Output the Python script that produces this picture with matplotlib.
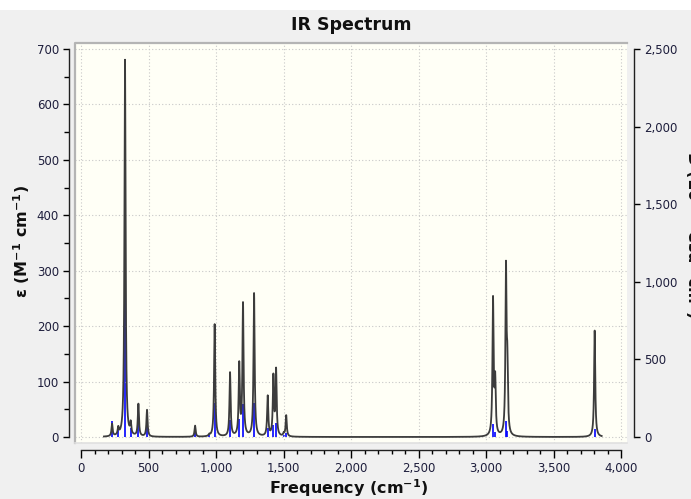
import numpy as np
import matplotlib
matplotlib.use("Agg")
import matplotlib.pyplot as plt
from matplotlib.ticker import MultipleLocator, FuncFormatter
from matplotlib.patches import Rectangle
from matplotlib.lines import Line2D

# Vibrational modes
freqs = [230, 276, 326, 368, 425, 489, 845, 950, 990, 1104, 1172, 1200, 1282,
         1383, 1425, 1445, 1502, 1520, 3052, 3068, 3148, 3158, 3805]
eps_peak = [22, 13, 680, 20, 58, 48, 20, 3, 203, 115, 128, 238, 258,
            72, 106, 118, 5, 38, 245, 95, 295, 110, 192]
dipole = [103, 51, 2244, 58, 147, 106, 25, 12, 221, 112, 117, 213, 217,
          56, 80, 88, 14, 27, 86, 33, 101, 37, 54]
hwhm = 5.0
freq_min, freq_max = 170, 3857

x_ticks = [0, 500, 1000, 1500, 2000, 2500, 3000, 3500, 4000]
left_ticks = [0, 100, 200, 300, 400, 500, 600, 700]
right_ticks = [0, 500, 1000, 1500, 2000, 2500]

W, H = 691, 499
fig = plt.figure(figsize=(W / 100, H / 100), dpi=100)
fig.patch.set_facecolor("white")
fig.patches.append(Rectangle((0, 0), 1, 1 - 10 / H, transform=fig.transFigure,
                             facecolor="#f0f0f0", edgecolor="none", zorder=-10))

left, right, top, bottom = 75, 627, 43, 443
rect = [left / W, 1 - bottom / H, (right - left) / W, (bottom - top) / H]
ax2 = fig.add_axes(rect)
ax = fig.add_axes(rect, sharex=ax2)
ax.set_zorder(ax2.get_zorder() + 1)
ax.patch.set_visible(False)
ax2.set_facecolor("#fffff6")

# x limits from pixel mapping (0 at px 81, 4000 at px 621)
ppx = (621 - 81) / 4000
ax.set_xlim((left - 81) / ppx, (right - 81) / ppx)
ppy = (437 - 49) / 700
ymin = -(bottom - 437) / ppy
ymax = (437 - top) / ppy
ax.set_ylim(ymin, ymax)
ax2.set_ylim(ymin * 2500 / 700, ymax * 2500 / 700)

# spectrum curve (Lorentzian broadening of the modes)
xs = np.arange(freq_min, freq_max, 0.25)
curve = np.zeros_like(xs)
for f, e in zip(freqs, eps_peak):
    curve += e * hwhm ** 2 / ((xs - f) ** 2 + hwhm ** 2)

ax2.vlines(freqs, 0, dipole, color="#0000ff", lw=1.2, zorder=3)
ax.plot(xs, curve, color="#3c3c3c", lw=1.3, zorder=4, solid_joinstyle="round")

# grid
for xv in x_ticks:
    ax.axvline(xv, color="#c8c8c8", lw=0.8, ls=(0, (1, 2)), zorder=1)
for yv in left_ticks:
    ax.axhline(yv, color="#c8c8c8", lw=0.8, ls=(0, (1, 2)), zorder=1)

# spines
for a in (ax, ax2):
    for s in a.spines.values():
        s.set_visible(False)
ax.spines["left"].set_visible(True)
ax.spines["left"].set_position(("outward", 4))
ax.spines["left"].set_bounds(0, 700)
ax.spines["bottom"].set_visible(True)
ax.spines["bottom"].set_position(("outward", 5))
ax.spines["bottom"].set_bounds(0, 4000)
ax2.spines["right"].set_visible(True)
ax2.spines["right"].set_position(("outward", 5))
ax2.spines["right"].set_bounds(0, 2500)
for s in (ax.spines["left"], ax.spines["bottom"], ax2.spines["right"]):
    s.set_color("#202020")
    s.set_linewidth(1.0)

# gray frame of plot area (top and left)
ax.add_line(Line2D([0, 0, 1], [0, 1, 1], transform=ax.transAxes, color="#b4b4b4",
                   lw=1.6, clip_on=False, zorder=6))
ax.add_line(Line2D([0, 1], [0, 0], transform=ax.transAxes, color="#e0e0e0",
                   lw=1.2, clip_on=False, zorder=6))

fmt = FuncFormatter(lambda v, p: f"{v:,.0f}")
ax.set_xticks(x_ticks)
ax.xaxis.set_minor_locator(MultipleLocator(100))
ax.xaxis.set_major_formatter(fmt)
ax.set_yticks(left_ticks)
ax.yaxis.set_minor_locator(MultipleLocator(50))
ax2.set_yticks(right_ticks)
ax2.yaxis.set_major_formatter(fmt)
ax2.yaxis.tick_right()
ax2.tick_params(axis="x", which="both", bottom=False, labelbottom=False)
ax2.tick_params(axis="y", which="both", left=False, labelleft=False)

lab_color = "#1e1e3c"
ax.tick_params(axis="x", which="major", direction="out", length=5.5, width=1,
               labelsize=8.5, labelcolor=lab_color, pad=3)
ax.tick_params(axis="x", which="minor", direction="out", length=3, width=1)
ax.tick_params(axis="y", which="major", direction="out", length=4.5, width=1,
               labelsize=8.5, labelcolor=lab_color, pad=3)
ax.tick_params(axis="y", which="minor", direction="out", length=3.5, width=1)
ax2.tick_params(axis="y", which="major", direction="out", length=4.5, width=1,
                labelsize=8.5, labelcolor=lab_color, pad=3)

fig.text(0.5 * (left + right) / W + 0.0, 1 - 25 / H, "IR Spectrum", ha="center",
         va="center", fontsize=12.5, fontweight="bold", color="#101010")
fig.text(0.5 * (left + right) / W - 0.003, 1 - 488 / H, "Frequency (cm$^{\\mathbf{-1}}$)",
         ha="center", va="center", fontsize=11.5, fontweight="bold", color="#101010")
fig.text(22 / W, 1 - 242 / H, "ε (M$^{\\mathbf{-1}}$ cm$^{\\mathbf{-1}}$)", ha="center",
         va="center", rotation=90, fontsize=11.5, fontweight="bold", color="#101010")
fig.text(693 / W, 1 - 235 / H, "D (10$^{\\mathbf{-40}}$ esu$^{\\mathbf{2}}$ cm$^{\\mathbf{2}}$)",
         ha="center", va="center", rotation=270, fontsize=11.5, fontweight="bold",
         color="#101010")

fig.savefig("out.png", dpi=100, facecolor=fig.get_facecolor())
